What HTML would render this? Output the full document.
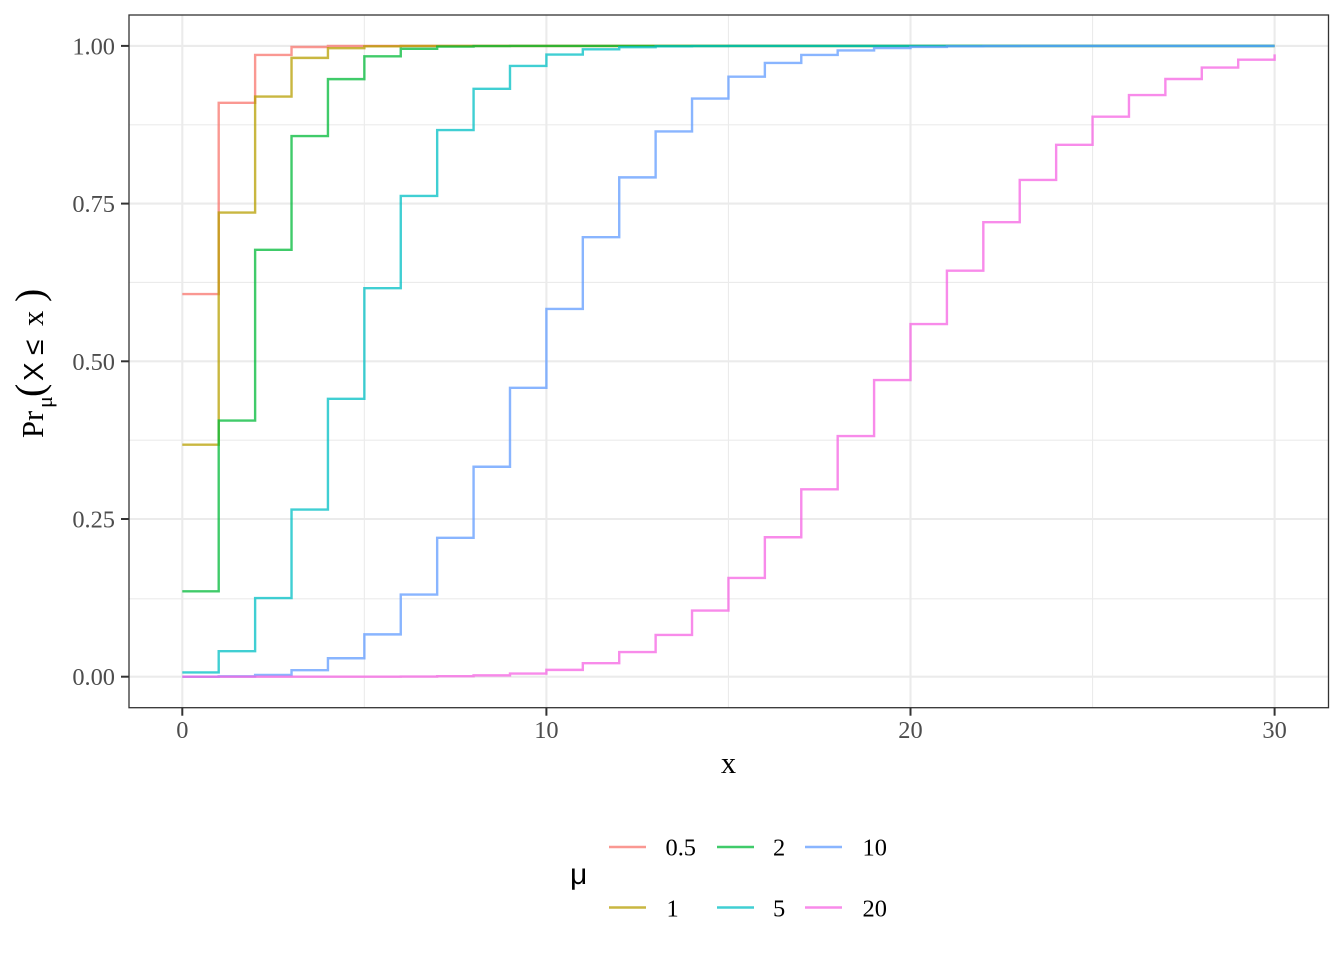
<!DOCTYPE html>
<html>
<head>
<meta charset="utf-8">
<style>
  html, body { margin:0; padding:0; background:#fff; }
  body { width:1344px; height:960px; overflow:hidden; }
  svg { display:block; }
  .tick { font-family:"Liberation Serif", serif; font-size:24.4px; fill:#4D4D4D; }
  .leg { font-family:"Liberation Serif", serif; font-size:24.4px; fill:#000; }
  .s { fill:none; stroke-width:2.4; stroke-opacity:0.75; vector-effect:non-scaling-stroke; stroke-linejoin:miter; }
</style>
</head>
<body>
<svg width="1344" height="960" viewBox="0 0 1344 960" xmlns="http://www.w3.org/2000/svg">
  <rect x="0" y="0" width="1344" height="960" fill="#fff"/>
  <!-- panel background -->
  <rect x="129" y="15" width="1199.5" height="692.7" fill="#fff"/>

  <!-- minor gridlines -->
  <g stroke="#EBEBEB" stroke-width="1.1">
    <line x1="129" x2="1328.5" y1="598.85" y2="598.85"/>
    <line x1="129" x2="1328.5" y1="440.15" y2="440.15"/>
    <line x1="129" x2="1328.5" y1="282.45" y2="282.45"/>
    <line x1="129" x2="1328.5" y1="124.85" y2="124.85"/>
    <line y1="15" y2="707.7" x1="364.35" x2="364.35"/>
    <line y1="15" y2="707.7" x1="728.45" x2="728.45"/>
    <line y1="15" y2="707.7" x1="1092.55" x2="1092.55"/>
  </g>
  <!-- major gridlines -->
  <g stroke="#EBEBEB" stroke-width="2.1">
    <line x1="129" x2="1328.5" y1="676.7" y2="676.7"/>
    <line x1="129" x2="1328.5" y1="519" y2="519"/>
    <line x1="129" x2="1328.5" y1="361.3" y2="361.3"/>
    <line x1="129" x2="1328.5" y1="203.6" y2="203.6"/>
    <line x1="129" x2="1328.5" y1="45.9" y2="45.9"/>
    <line y1="15" y2="707.7" x1="182.3" x2="182.3"/>
    <line y1="15" y2="707.7" x1="546.4" x2="546.4"/>
    <line y1="15" y2="707.7" x1="910.5" x2="910.5"/>
    <line y1="15" y2="707.7" x1="1274.6" x2="1274.6"/>
  </g>

  <!-- series -->
  <g transform="translate(182.3,676.7) scale(36.41,-630.8)">
    <path class="s" stroke="#F8766D" d="M0 .606531 H1 V.909796 H2 V.985612 H3 V.998248 H4 V.999828 H5 V.999986 H6 V.999999 H7 V1 H30"/>
    <path class="s" stroke="#B79F00" d="M0 .367879 H1 V.735759 H2 V.919699 H3 V.981012 H4 V.99634 H5 V.999406 H6 V.999917 H7 V.99999 H8 V.999999 H9 V1 H30"/>
    <path class="s" stroke="#00BA38" d="M0 .135335 H1 V.406006 H2 V.676676 H3 V.857123 H4 V.947347 H5 V.983436 H6 V.995466 H7 V.998903 H8 V.999763 H9 V.999954 H10 V.999992 H11 V.999999 H12 V1 H30"/>
    <path class="s" stroke="#00BFC4" d="M0 .006738 H1 V.040428 H2 V.124652 H3 V.265026 H4 V.440493 H5 V.615961 H6 V.762183 H7 V.866628 H8 V.931906 H9 V.968172 H10 V.986305 H11 V.994547 H12 V.997981 H13 V.999302 H14 V.999774 H15 V.999931 H16 V.99998 H17 V.999995 H18 V.999999 H19 V1 H30"/>
    <path class="s" stroke="#619CFF" d="M0 .0000454 H1 V.000499 H2 V.002769 H3 V.010336 H4 V.029253 H5 V.067086 H6 V.130141 H7 V.220221 H8 V.33282 H9 V.45793 H10 V.58304 H11 V.696776 H12 V.791556 H13 V.864464 H14 V.916542 H15 V.95126 H16 V.972958 H17 V.985722 H18 V.992813 H19 V.996546 H20 V.998412 H21 V.9993 H22 V.999704 H23 V.99988 H24 V.999953 H25 V.999982 H26 V.999993 H27 V.999997 H28 V.999999 H29 V1 H30"/>
    <path class="s" stroke="#F564E3" d="M0 0 H5 V.0000719 H6 V.000279 H7 V.000809 H8 V.002087 H9 V.004995 H10 V.010812 H11 V.021387 H12 V.039012 H13 V.066128 H14 V.104864 H15 V.156513 H16 V.221074 H17 V.297028 H18 V.381422 H19 V.470257 H20 V.559093 H21 V.643698 H22 V.720611 H23 V.787493 H24 V.843227 H25 V.887815 H26 V.922113 H27 V.947519 H28 V.965666 H29 V.978182 H30 V.986525"/>
  </g>

  <!-- panel border -->
  <rect x="129" y="15" width="1199.5" height="692.7" fill="none" stroke="#333333" stroke-width="1.3"/>

  <!-- ticks -->
  <g stroke="#333333" stroke-width="2">
    <line x1="121" x2="129" y1="676.7" y2="676.7"/>
    <line x1="121" x2="129" y1="519" y2="519"/>
    <line x1="121" x2="129" y1="361.3" y2="361.3"/>
    <line x1="121" x2="129" y1="203.6" y2="203.6"/>
    <line x1="121" x2="129" y1="45.9" y2="45.9"/>
    <line y1="707.7" y2="715.7" x1="182.3" x2="182.3"/>
    <line y1="707.7" y2="715.7" x1="546.4" x2="546.4"/>
    <line y1="707.7" y2="715.7" x1="910.5" x2="910.5"/>
    <line y1="707.7" y2="715.7" x1="1274.6" x2="1274.6"/>
  </g>

  <!-- y tick labels -->
  <g class="tick" text-anchor="end">
    <text x="115" y="685">0.00</text>
    <text x="115" y="527.5">0.25</text>
    <text x="115" y="369.8">0.50</text>
    <text x="115" y="212">0.75</text>
    <text x="115" y="54.5">1.00</text>
  </g>
  <!-- x tick labels -->
  <g class="tick" text-anchor="middle">
    <text x="182.3" y="738">0</text>
    <text x="546.4" y="738">10</text>
    <text x="910.5" y="738">20</text>
    <text x="1274.6" y="738">30</text>
  </g>

  <!-- x title -->
  <text x="728.5" y="773" text-anchor="middle" font-family="Liberation Serif, serif" font-size="30.5" fill="#000">x</text>

  <!-- y title (rotated) -->
  <g transform="translate(43,438) rotate(-90)" fill="#000">
    <text x="0" y="0" font-family="Liberation Serif, serif" font-size="30.5">Pr</text>
    <text x="30" y="9" font-family="Liberation Serif, serif" font-size="22">μ</text>
    <text x="41" y="0" font-family="Liberation Serif, serif" font-size="40">(</text>
    <text x="57" y="0" font-family="Liberation Sans, sans-serif" font-size="28">X</text>
    <text x="83" y="0" font-family="Liberation Sans, sans-serif" font-size="28">≤</text>
    <text x="112" y="0" font-family="Liberation Serif, serif" font-size="30.5">x</text>
    <text x="136" y="0" font-family="Liberation Serif, serif" font-size="40">)</text>
  </g>

  <!-- legend -->
  <text x="570" y="884" font-family="Liberation Sans, sans-serif" font-size="30" fill="#000">μ</text>
  <g stroke-width="2.6" stroke-opacity="0.75">
    <line x1="609" x2="646" y1="847" y2="847" stroke="#F8766D"/>
    <line x1="609" x2="646" y1="907.5" y2="907.5" stroke="#B79F00"/>
    <line x1="717" x2="754" y1="847" y2="847" stroke="#00BA38"/>
    <line x1="717" x2="754" y1="907.5" y2="907.5" stroke="#00BFC4"/>
    <line x1="805" x2="842" y1="847" y2="847" stroke="#619CFF"/>
    <line x1="805" x2="842" y1="907.5" y2="907.5" stroke="#F564E3"/>
  </g>
  <g class="leg">
    <text x="665.5" y="855.5">0.5</text>
    <text x="666.5" y="916.5">1</text>
    <text x="773" y="855.5">2</text>
    <text x="773" y="916.5">5</text>
    <text x="862.5" y="855.5">10</text>
    <text x="862.5" y="916.5">20</text>
  </g>
</svg>
</body>
</html>
